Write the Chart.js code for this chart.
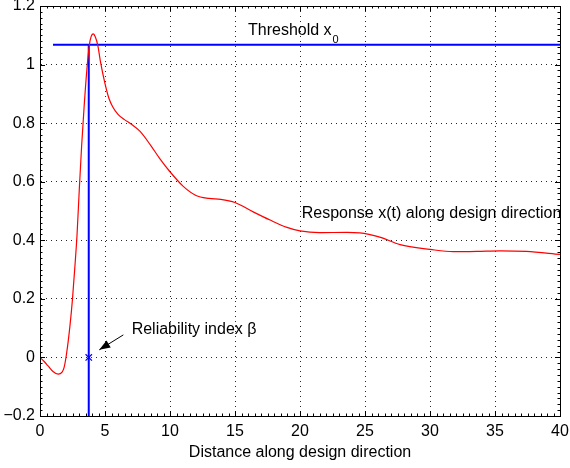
<!DOCTYPE html>
<html>
<head>
<meta charset="utf-8">
<script src="https://cdn.jsdelivr.net/npm/chart.js@4/dist/chart.umd.min.js"></script>
<style>
  html, body { margin: 0; padding: 0; background: #fff; }
</style>
</head>
<body>
<canvas id="chart" width="570" height="468"></canvas>
<script>
// response x(t)
const distance = [0, 0.3, 0.64, 1.0, 1.4, 1.7, 1.85, 2.05, 2.3, 2.5,
  2.7, 2.85, 3.03, 3.2, 3.4, 3.6, 3.8, 3.95, 4.1, 4.25,
  4.45, 4.65, 5.0, 5.3, 5.6, 6.0, 6.5, 7.0, 7.7, 8.5,
  9.2, 10, 11, 12, 13, 13.9, 15, 16.4, 17.7, 19,
  20, 21.5, 23.6, 24.6, 25.3, 26.2, 27.7, 30, 31.8, 33.6,
  35.4, 37.4, 40];
const response = [0, -0.013, -0.03, -0.048, -0.057, -0.05, -0.035, 0.015, 0.106, 0.2,
  0.32, 0.42, 0.58, 0.72, 0.86, 0.98, 1.068, 1.098, 1.105, 1.095,
  1.065, 1.01, 0.935, 0.885, 0.855, 0.83, 0.812, 0.797, 0.772, 0.725,
  0.68, 0.634, 0.585, 0.553, 0.543, 0.540, 0.529, 0.497, 0.469, 0.444,
  0.432, 0.426, 0.427, 0.425, 0.42, 0.41, 0.385, 0.369, 0.361, 0.362,
  0.364, 0.362, 0.352];

const threshold = 1.068;
const thresholdFrom = 1;
const thresholdTo = 40;
const betaX = 3.75;
const betaY = 0;

const xTickLabels = ['0', '5', '10', '15', '20', '25', '30', '35', '40'];
const yTickLabels = ['\u22120.2', '0', '0.2', '0.4', '0.6', '0.8', '1', '1.2'];

const FONT = '"Liberation Sans", Arial, Helvetica, sans-serif';

const responsePts = distance.map((d, i) => ({ x: d, y: response[i] }));

// no extra padding for label overhang, the plot box is fixed
function fixBox(w, h) {
  return function (s) {
    if (w) s.width = w;
    if (h) s.height = h;
    s.paddingLeft = s.paddingRight = s.paddingTop = s.paddingBottom = 0;
  };
}

// box, inner ticks, text labels and arrow
const extras = {
  id: 'extras',
  afterDatasetsDraw(chart) {
    const { ctx, chartArea: a, scales: { x, y } } = chart;
    ctx.save();
    ctx.strokeStyle = '#000';
    ctx.lineWidth = 1;
    ctx.strokeRect(Math.round(a.left) + 0.5, Math.round(a.top) + 0.5,
      Math.round(a.right - a.left), Math.round(a.bottom - a.top));

    ctx.beginPath();
    for (let v = 0; v <= 40.001; v += 0.5) {
      const px = Math.round(x.getPixelForValue(v)) + 0.5;
      const len = Math.abs(v % 5) < 1e-6 ? 5 : 2.5;
      ctx.moveTo(px, a.bottom); ctx.lineTo(px, a.bottom - len);
      ctx.moveTo(px, a.top); ctx.lineTo(px, a.top + len);
    }
    for (let k = -10; k <= 60; k++) {
      const v = k * 0.02;
      const py = Math.round(y.getPixelForValue(v)) + 0.5;
      const len = k % 10 === 0 ? 5 : 2.5;
      ctx.moveTo(a.left, py); ctx.lineTo(a.left + len, py);
      ctx.moveTo(a.right, py); ctx.lineTo(a.right - len, py);
    }
    ctx.stroke();

    ctx.fillStyle = '#000';
    ctx.textBaseline = 'alphabetic';
    ctx.textAlign = 'left';
    ctx.font = '16px ' + FONT;
    const tx = x.getPixelForValue(16.0), ty = y.getPixelForValue(1.102);
    ctx.fillText('Threshold x', tx, ty);
    const w = ctx.measureText('Threshold x').width;
    ctx.font = '11px ' + FONT;
    ctx.fillText('0', tx + w + 1, ty + 8);

    ctx.font = '16px ' + FONT;
    ctx.fillText('Response x(t) along design direction',
      x.getPixelForValue(20.13), y.getPixelForValue(0.475));
    ctx.fillText('Reliability index \u03b2',
      x.getPixelForValue(7.05), y.getPixelForValue(0.081));

    // arrow
    const x1 = x.getPixelForValue(6.41), y1 = y.getPixelForValue(0.077);
    const x2 = x.getPixelForValue(4.56), y2 = y.getPixelForValue(0.026);
    const ang = Math.atan2(y2 - y1, x2 - x1);
    ctx.beginPath();
    ctx.moveTo(x1, y1); ctx.lineTo(x2, y2);
    ctx.stroke();
    ctx.beginPath();
    ctx.moveTo(x2, y2);
    ctx.lineTo(x2 - 11 * Math.cos(ang) + 4 * Math.sin(ang), y2 - 11 * Math.sin(ang) - 4 * Math.cos(ang));
    ctx.lineTo(x2 - 11 * Math.cos(ang) - 4 * Math.sin(ang), y2 - 11 * Math.sin(ang) + 4 * Math.cos(ang));
    ctx.closePath();
    ctx.fill();
    ctx.restore();
  }
};

new Chart(document.getElementById('chart'), {
  type: 'line',
  data: {
    datasets: [
      {
        data: responsePts,
        borderColor: 'rgb(255,0,0)',
        borderWidth: 1.2,
        pointRadius: 0,
        cubicInterpolationMode: 'monotone'
      },
      {
        data: [{ x: thresholdFrom, y: threshold }, { x: thresholdTo, y: threshold }],
        borderColor: 'rgb(0,0,255)',
        borderWidth: 2,
        pointRadius: 0
      },
      {
        data: [{ x: betaX, y: -0.2 }, { x: betaX, y: threshold }],
        borderColor: 'rgb(0,0,255)',
        borderWidth: 2,
        pointRadius: 0
      },
      {
        data: [{ x: betaX, y: betaY }],
        showLine: false,
        pointStyle: 'crossRot',
        pointRadius: 4.5,
        borderColor: 'rgb(0,0,255)',
        pointBorderWidth: 1.2
      }
    ]
  },
  options: {
    responsive: false,
    animation: false,
    layout: { padding: { top: 6, right: 10, left: 0, bottom: 0 } },
    plugins: { legend: { display: false }, tooltip: { enabled: false } },
    scales: {
      x: {
        type: 'linear',
        min: 0, max: 40,
        afterFit: fixBox(0, 52),
        ticks: {
          stepSize: 5,
          padding: 6,
          color: '#000',
          font: { family: FONT, size: 16 },
          maxRotation: 0,
          callback: (v, i) => xTickLabels[i]
        },
        grid: { color: 'rgba(0,0,0,0.85)', drawTicks: false },
        border: { display: true, color: '#000', dash: [1, 4] },
        title: {
          display: true,
          text: 'Distance along design direction',
          color: '#000',
          font: { family: FONT, size: 16 },
          padding: { top: 0, bottom: 6 }
        }
      },
      y: {
        type: 'linear',
        min: -0.2, max: 1.2,
        afterFit: fixBox(40, 0),
        ticks: {
          stepSize: 0.2,
          padding: 5,
          color: '#000',
          font: { family: FONT, size: 16 },
          callback: (v, i) => yTickLabels[i]
        },
        grid: { color: 'rgba(0,0,0,0.85)', drawTicks: false },
        border: { display: true, color: '#000', dash: [1, 4] }
      }
    }
  },
  plugins: [extras]
});
</script>
</body>
</html>
